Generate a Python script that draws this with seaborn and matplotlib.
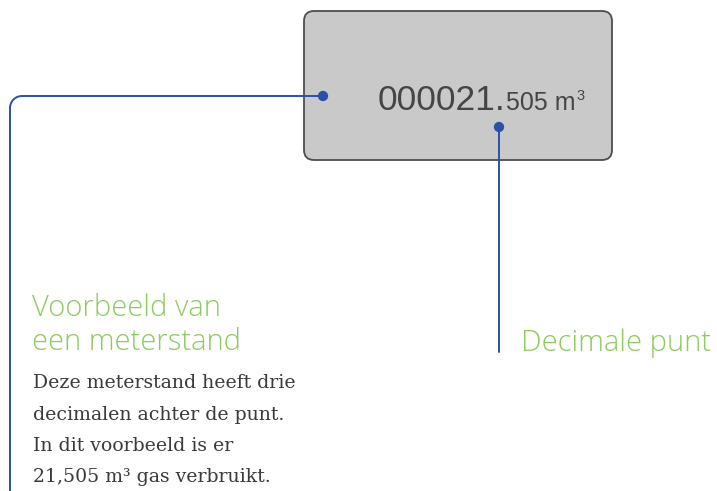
import numpy as np
import pandas as pd
import matplotlib
matplotlib.use("Agg")
import matplotlib.pyplot as plt
import seaborn as sns
from matplotlib.patches import FancyBboxPatch

sns.set_theme(style="white")

# content
reading_main = "000021."
reading_decimals = "505 m"
reading_unit_sup = "3"
title_lines = ["Voorbeeld van", "een meterstand"]
body_lines = ["Deze meterstand heeft drie", "decimalen achter de punt.",
              "In dit voorbeeld is er", "21,505 m³ gas verbruikt."]
label_right = "Decimale punt"

W, H = 717, 491
fig = plt.figure(figsize=(W / 100, H / 100), dpi=100)
ax = fig.add_axes([0, 0, 1, 1])

BLUE = "#2b50a8"
GREEN = "#8ccb5e"
GREY_TXT = "#454545"
BODY = "#3a3a3a"

# meter box
box = FancyBboxPatch((304, 11), 308, 149, boxstyle="round,pad=0,rounding_size=10",
                     facecolor="#c8c9c8", edgecolor="#4d4d4d", linewidth=1.3, zorder=1)
ax.add_patch(box)

# connector lines
r = 12
theta = np.linspace(np.pi / 2, np.pi, 20)
arc_x = 10 + r + r * np.cos(theta)
arc_y = 96 + r - r * np.sin(theta)
left_x = np.concatenate([[323], arc_x, [10]])
left_y = np.concatenate([[96], arc_y, [491]])
left_df = pd.DataFrame({"x": left_x, "y": left_y})
sns.lineplot(data=left_df, x="x", y="y", sort=False, estimator=None, ax=ax,
             color=BLUE, linewidth=1.4, zorder=2)
right_df = pd.DataFrame({"x": [499, 499], "y": [127, 352]})
sns.lineplot(data=right_df, x="x", y="y", sort=False, estimator=None, ax=ax,
             color=BLUE, linewidth=1.4, zorder=2)
dots = pd.DataFrame({"x": [323, 499], "y": [96, 127]})
sns.scatterplot(data=dots, x="x", y="y", ax=ax, color=BLUE, s=55,
                edgecolor="none", zorder=3)
ax.set_xlim(0, W)
ax.set_ylim(H, 0)
ax.axis("off")

# reading text
fig.canvas.draw()
rend = fig.canvas.get_renderer()
t1 = ax.text(378, 110, reading_main, fontsize=25.5, color=GREY_TXT,
             family="Liberation Sans", va="baseline", ha="left", zorder=4)
bb = t1.get_window_extent(rend)
x_end = ax.transData.inverted().transform((bb.x1, bb.y0))[0]
t2 = ax.text(x_end + 0.5, 110, reading_decimals, fontsize=18, color=GREY_TXT,
             family="Liberation Sans", va="baseline", ha="left", zorder=4)
bb2 = t2.get_window_extent(rend)
x_end2 = ax.transData.inverted().transform((bb2.x1, bb2.y0))[0]
ax.text(x_end2 + 0.5, 100, reading_unit_sup, fontsize=10.5, color=GREY_TXT,
        family="Liberation Sans", va="baseline", ha="left", zorder=4)

# titles
for i, line in enumerate(title_lines):
    ax.text(32, 316 + i * 34.5, line, fontsize=21, color=GREEN, family="Open Sans",
            fontweight=300, va="baseline", ha="left")
ax.text(521, 350.5, label_right, fontsize=21, color=GREEN, family="Open Sans",
        fontweight=300, va="baseline", ha="left")

# body
for i, line in enumerate(body_lines):
    ax.text(33, 388 + i * 31.5, line, fontsize=13.6, color=BODY,
            family="DejaVu Serif", va="baseline", ha="left")

fig.savefig("out.png", dpi=100)
